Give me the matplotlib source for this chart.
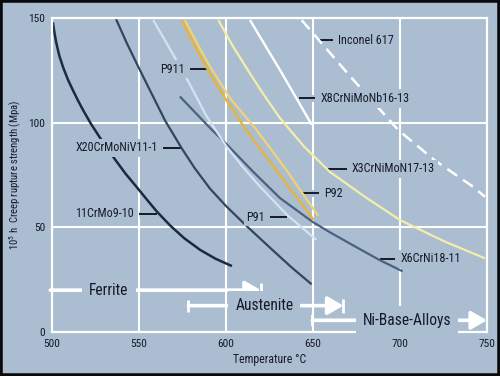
import matplotlib
matplotlib.use('Agg')
import matplotlib.pyplot as plt
import matplotlib.patheffects as pe
from matplotlib.patches import Rectangle
from matplotlib import font_manager

BG = '#aabdd1'
TXT = '#161a28'

# choose a narrow sans face if one is installed
_names = {f.name for f in font_manager.fontManager.ttflist}
_narrow = None
for cand in ['Liberation Sans Narrow', 'Arial Narrow', 'Roboto Condensed',
             'Open Sans Condensed', 'DejaVu Sans Condensed']:
    if cand in _names:
        _narrow = cand
        break
if _narrow is not None:
    FONT = [_narrow, 'Liberation Sans', 'DejaVu Sans']
    K = 1.0
else:
    FONT = ['Liberation Sans', 'DejaVu Sans']
    K = 0.86
plt.rcParams['font.family'] = FONT
plt.rcParams['mathtext.default'] = 'regular'

# ---------------- data ----------------
x_ticks = [500, 550, 600, 650, 700, 750]
y_ticks = [0, 50, 100, 150]

t_11crmo = [500.5, 501.3, 502.5, 504.2, 506.5, 509.2, 512.2, 515, 518, 522.5, 527.2, 531.5,
            536.2, 542.3, 548.7, 554.5, 560.2, 568, 576, 585.2, 594, 603.4]
s_11crmo = [148, 143.5, 138, 132, 126.2, 120.5, 115.2, 110.5, 105.8, 99.3, 93.3, 88,
            82.5, 75.6, 69.2, 63.3, 57.6, 50.8, 44.8, 39.2, 35, 31.5]

t_x20 = [536.8, 543, 549.6, 557, 565, 574.6, 582, 590.8, 600, 612, 625, 637.5, 649.2]
s_x20 = [149.5, 138, 126.7, 114.3, 101, 87.7, 78.3, 68.5, 60.2, 50.5, 40.5, 31, 22.8]

t_x6 = [573.5, 581, 590.8, 600, 615.7, 631, 650, 660, 675, 688, 701.5]
s_x6 = [112.5, 106, 97.5, 90, 76.5, 64, 52.5, 47.5, 40.5, 34.5, 29]

t_p91 = [558.2, 564.5, 571, 577.5, 588.9, 600.4, 610, 619.5, 635, 652]
s_p91 = [149, 140, 130.5, 121, 103, 88.5, 78.5, 69.5, 56, 44]

t_p911 = [574.5, 581, 588, 594, 600, 612, 631, 650.5]
s_p911 = [149, 138.5, 127.5, 119, 111, 96, 75, 53.5]

t_p92 = [576.4, 583, 590, 596.5, 603, 617.6, 635, 653]
s_p92 = [149, 138.5, 128, 119.3, 111, 96.5, 77, 55.5]

t_x3 = [595.6, 604, 613.8, 622, 631.2, 645, 659.7, 680, 700, 725, 748.8]
s_x3 = [149, 136.5, 123.5, 113, 102, 88.5, 76.5, 64.5, 53.5, 43.5, 35.2]

t_x8 = [613.8, 631.5, 649.3]
s_x8 = [149, 124.5, 99]

t_in617 = [643.5, 671, 699, 720, 742, 748.8]
s_in617 = [149, 122.5, 96.5, 82, 69.4, 64.6]

label_names = ['Inconel 617', 'X8CrNiMoNb16-13', 'X3CrNiMoN17-13', 'P92', 'X6CrNi18-11',
               'P91', 'P911', 'X20CrMoNiV11-1', '11CrMo9-10']
label_x0 = [653.9, 641.7, 658.6, 644.4, 688.6, 625.4, 579.4, 564.0, 549.8]
label_x1 = [661.4, 651.3, 669.4, 653.6, 697.3, 635.0, 589.4, 574.6, 560.3]
label_y = [139.4, 111.6, 78.0, 66.4, 35.0, 54.9, 125.6, 88.0, 56.5]
label_side = ['right', 'right', 'right', 'right', 'right', 'left', 'left', 'left', 'left']

range_labels = ['Ferrite', 'Austenite', 'Ni-Base-Alloys']
range_start = [499.0, 578.4, 649.6]
range_end = [620.0, 667.5, 750.0]
range_level = [20.0, 12.6, 5.6]
range_text_x = [532.7, 622.0, 704.0]
range_start_bar = [False, True, True]
range_end_bar = [True, True, False]

# ---------------- figure ----------------
fig = plt.figure(figsize=(5.0, 3.76), dpi=100)
fig.patch.set_facecolor(BG)
ax = fig.add_axes([0.104, 0.117, 0.870, 0.835])
ax.set_facecolor(BG)
ax.set_xlim(500, 750)
ax.set_ylim(0, 150)
ax.set_xticks(x_ticks)
ax.set_yticks(y_ticks)
ax.tick_params(length=0, labelsize=8.2 * K, colors=TXT, pad=5)
ax.set_axisbelow(True)
ax.grid(True, color='white', lw=1.5)
for sp in ax.spines.values():
    sp.set_color('white')
    sp.set_linewidth(1.6)

series = [
    (t_11crmo, s_11crmo, '#1b2943', 1.8),
    (t_x20, s_x20, '#33465f', 1.6),
    (t_x6, s_x6, '#4c6182', 1.6),
    (t_p91, s_p91, '#d3e3f2', 1.6),
    (t_p911, s_p911, '#e8b434', 1.6),
    (t_p92, s_p92, '#f2d372', 1.6),
    (t_x3, s_x3, '#f4eea6', 1.6),
    (t_x8, s_x8, '#ffffff', 1.7),
]
for t, s, c, lw in series:
    ax.plot(t, s, color=c, lw=lw, zorder=2, solid_capstyle='butt', solid_joinstyle='round')
ax.plot(t_in617, s_in617, color='white', lw=1.8, ls=(0, (4.8, 2.8)), zorder=2)

# curve labels with leaders
bg_stroke = [pe.withStroke(linewidth=5, foreground=BG)]
LFS = 8.7 * K
for name, x0, x1, y, side in zip(label_names, label_x0, label_x1, label_y, label_side):
    ax.plot([x0, x1], [y, y], color=TXT, lw=1.4, zorder=1.5, path_effects=bg_stroke,
            solid_capstyle='butt')
    if side == 'right':
        ax.annotate(name, xy=(x1, y), xytext=(3.6, 0), textcoords='offset points',
                    ha='left', va='center', fontsize=LFS, color=TXT, zorder=4,
                    bbox=dict(boxstyle='square,pad=0.22', fc=BG, ec='none'))
    else:
        ax.annotate(name, xy=(x0, y), xytext=(-3.6, 0), textcoords='offset points',
                    ha='right', va='center', fontsize=LFS, color=TXT, zorder=4,
                    bbox=dict(boxstyle='square,pad=0.22', fc=BG, ec='none'))

# range arrows
for name, a, b, y, tx, sb, eb in zip(range_labels, range_start, range_end, range_level,
                                     range_text_x, range_start_bar, range_end_bar):
    ax.annotate('', xy=(b, y), xytext=(a, y),
                arrowprops=dict(arrowstyle='-|>,head_length=0.95,head_width=0.55',
                                color='white', lw=2.6, mutation_scale=10,
                                shrinkA=0, shrinkB=0),
                zorder=3, annotation_clip=False)
    if sb:
        ax.plot([a], [y], marker='|', ms=8.5, mew=2, color='white', zorder=3, clip_on=False)
    if eb:
        ax.plot([b], [y], marker='|', ms=10, mew=2, color='white', zorder=3, clip_on=False)
    ax.text(tx, y, name, ha='center', va='center', fontsize=11.2 * K, color=TXT, zorder=4,
            bbox=dict(boxstyle='square,pad=0.45', fc=BG, ec='none'))

ax.set_xlabel('Temperature °C', fontsize=8.5 * K, color=TXT)
ax.set_ylabel('10$^5$ h  Creep rupture strength (Mpa)', fontsize=7.7 * K, color=TXT)
ax.xaxis.set_label_coords(0.5, -0.067)
ax.yaxis.set_label_coords(-0.066, 0.5)

fig.patches.append(Rectangle((0, 0), 1, 1, transform=fig.transFigure, fill=False,
                             ec='#0a0a0a', lw=4, zorder=10))

fig.savefig('out.png', dpi=100, facecolor=BG)
